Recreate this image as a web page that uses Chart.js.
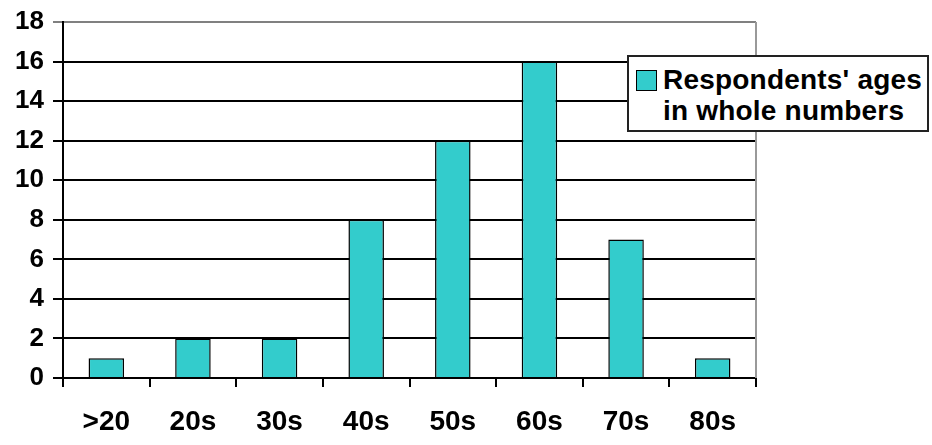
<!DOCTYPE html>
<html>
<head>
<meta charset="utf-8">
<script src="https://cdn.jsdelivr.net/npm/chart.js@4.4.0/dist/chart.umd.min.js"></script>
<style>
  html, body { margin: 0; padding: 0; background: #fff; }
  #wrap { position: relative; width: 932px; height: 445px; }
  #legend {
    position: absolute; left: 627px; top: 55px; width: 302px; height: 77px;
    box-sizing: border-box; border: 2px solid #222; background: #fff;
    font: bold 28px "Liberation Sans", Arial, sans-serif; color: #000;
    line-height: 31px;
  }
  #legend .sw {
    position: absolute; left: 7px; top: 13px; width: 21px; height: 21px;
    background: #33CCCC; border: 1.5px solid #000; box-sizing: border-box;
  }
  #legend .tx { position: absolute; left: 34px; top: 7px; white-space: nowrap; letter-spacing: 0.2px; }
</style>
</head>
<body>
<div id="wrap">
  <canvas id="ageChart" width="932" height="445"></canvas>
  <div id="legend"><div class="sw"></div><div class="tx">Respondents' ages<br>in whole numbers</div></div>
</div>
<script>
// Data
const ageGroups = ['>20', '20s', '30s', '40s', '50s', '60s', '70s', '80s'];
const respondents = [1, 2, 2, 8, 12, 16, 7, 1];
const yMax = 18;
const yStep = 2;

// gray right edge of the plot
const rightEdge = {
    id: 'rightEdge',
    afterDraw(chart) {
        const a = chart.chartArea, c = chart.ctx;
        c.save();
        c.strokeStyle = '#999';
        c.lineWidth = 2;
        c.beginPath();
        c.moveTo(a.right, a.top);
        c.lineTo(a.right, a.bottom);
        c.stroke();
        c.restore();
    }
};

new Chart(document.getElementById('ageChart'), {
    type: 'bar',
    data: {
        labels: ageGroups,
        datasets: [{
            label: "Respondents' ages in whole numbers",
            data: respondents,
            backgroundColor: '#33CCCC',
            borderColor: '#000',
            borderWidth: 1.5,
            categoryPercentage: 1,
            barPercentage: 0.41
        }]
    },
    options: {
        responsive: false,
        animation: false,
        layout: { padding: { top: 22, right: 176, bottom: 0, left: 0 } },
        plugins: { legend: { display: false }, tooltip: { enabled: false } },
        scales: {
            x: {
                afterFit: s => { s.height = 67; },
                grid: { drawOnChartArea: false, color: '#000', lineWidth: 2, tickLength: 9 },
                border: { color: '#000', width: 2 },
                ticks: {
                    color: '#000', padding: 18,
                    font: { family: 'Liberation Sans, Arial', size: 28, weight: 'bold' }
                }
            },
            y: {
                min: 0, max: yMax,
                afterFit: s => { s.width = 63; },
                grid: {
                    color: c => (c.tick && c.tick.value === yMax) ? '#808080' : '#000',
                    lineWidth: 2, tickLength: 10
                },
                border: { color: '#000', width: 2 },
                ticks: {
                    stepSize: yStep, color: '#000', padding: 9,
                    font: { family: 'Liberation Sans, Arial', size: 26, weight: 'bold', lineHeight: 1 }
                }
            }
        }
    },
    plugins: [rightEdge]
});
</script>
</body>
</html>
